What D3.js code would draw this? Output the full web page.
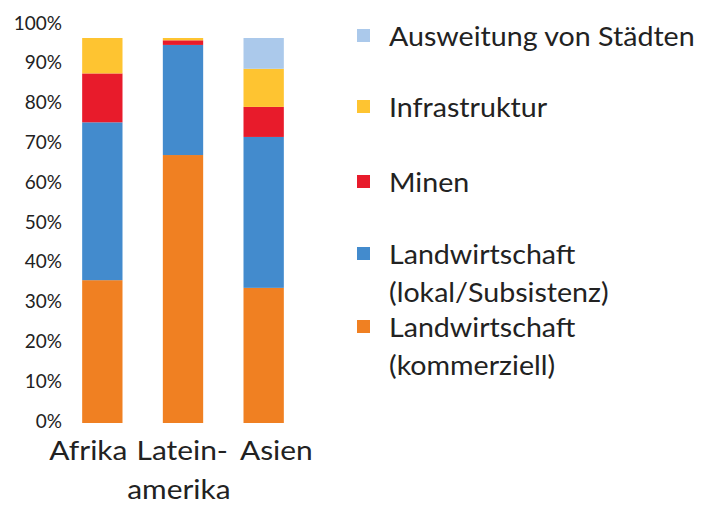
<!DOCTYPE html>
<html>
<head>
<meta charset="utf-8">
<script src="https://cdn.jsdelivr.net/npm/d3@7"></script>
<style>
  html, body { margin: 0; padding: 0; background: #fff; }
  svg { display: block; font-family: Lato, "Open Sans", sans-serif; }
</style>
</head>
<body>
<div id="chart"></div>
<script>
/* Regions on the x axis */
const regions = ["Afrika", "Latein-amerika", "Asien"];

/* Series, bottom to top in the stack (shares in %) */
const seriesKeys = ["kommerziell", "lokal", "minen", "infra", "staedte"];
const commercial = [37.1, 69.6, 35.1];
const subsistence = [41.0, 28.6, 39.2];
const mining = [12.7, 1.2, 7.8];
const infrastructure = [9.2, 0.6, 9.9];
const urban = [0, 0, 8.0];

/* Legend entries, top to bottom */
const legendKeys = ["staedte", "infra", "minen", "lokal", "kommerziell"];
const legendLabels = [
  ["Ausweitung von Städten"],
  ["Infrastruktur"],
  ["Minen"],
  ["Landwirtschaft", "(lokal/Subsistenz)"],
  ["Landwirtschaft", "(kommerziell)"]
];

/* Axis tick labels */
const yTicks = [0, 10, 20, 30, 40, 50, 60, 70, 80, 90, 100];

const colors = {
  kommerziell: "#f08022",
  lokal: "#438bcd",
  minen: "#e81b2b",
  infra: "#fec431",
  staedte: "#abc9eb"
};

const width = 701, height = 507;

/* Build table for the stack */
const table = regions.map((r, i) => ({
  region: r,
  kommerziell: commercial[i],
  lokal: subsistence[i],
  minen: mining[i],
  infra: infrastructure[i],
  staedte: urban[i]
}));

const stacked = d3.stack().keys(seriesKeys)(table);

const svg = d3.select("#chart")
  .append("svg")
  .attr("width", width)
  .attr("height", height);

/* Scales */
const xScale = d3.scaleBand()
  .domain(regions)
  .range([62, 304])
  .paddingInner(0.5)
  .paddingOuter(0.25);

const yScale = d3.scaleLinear()
  .domain([0, 100])
  .range([423, 38]);

/* tick labels in the picture sit slightly higher than the bars */
const yLabelScale = d3.scaleLinear()
  .domain([0, 100])
  .range([421, 23]);

/* x labels are spread a bit wider than the bars */
const xLabelScale = d3.scalePoint()
  .domain(regions)
  .range([86, 274]);

/* Bars */
svg.append("g")
  .selectAll("g")
  .data(stacked)
  .join("g")
    .attr("fill", d => colors[d.key])
  .selectAll("rect")
  .data(d => d)
  .join("rect")
    .attr("x", d => xScale(d.data.region))
    .attr("y", d => yScale(d[1]))
    .attr("width", xScale.bandwidth())
    .attr("height", d => yScale(d[0]) - yScale(d[1]));

/* Y axis labels */
const yAxis = d3.axisLeft(yLabelScale)
  .tickValues(yTicks)
  .tickSize(0)
  .tickPadding(0)
  .tickFormat(d => d + "%");

svg.append("g")
  .attr("transform", "translate(62,0)")
  .call(yAxis)
  .call(g => g.select(".domain").remove())
  .selectAll("text")
    .attr("font-family", "Lato, 'Open Sans', sans-serif")
    .attr("font-size", "19px")
    .attr("fill", "#222");

/* X axis labels (Latein-amerika broken into two lines), text is a bit wide in the original */
const xLabels = svg.append("g")
  .selectAll("text")
  .data(regions)
  .join("text")
    .attr("transform", d => `translate(${xLabelScale(d)},460) scale(1.15,1)`)
    .attr("text-anchor", "middle")
    .attr("font-size", "26px")
    .attr("fill", "#222");

xLabels.selectAll("tspan")
  .data(d => d.includes("-") ? [d.split("-")[0] + "-", d.split("-")[1]] : [d])
  .join("tspan")
    .attr("x", (d, i) => i === 0 ? 2 : -1)
    .attr("dy", (d, i) => i === 0 ? 0 : 39)
    .text(d => d);

/* Legend */
const legendTop = [29, 100, 175, 247, 320];

const legend = svg.append("g")
  .selectAll("g")
  .data(legendKeys)
  .join("g")
    .attr("transform", (d, i) => `translate(357,${legendTop[i]})`);

legend.append("rect")
  .attr("width", 13)
  .attr("height", 13)
  .attr("fill", d => colors[d]);

legend.append("text")
  .attr("transform", "translate(32,17) scale(1.1,1)")
  .attr("font-size", "26px")
  .attr("fill", "#222")
  .selectAll("tspan")
  .data((d, i) => legendLabels[i])
  .join("tspan")
    .attr("x", 0)
    .attr("dy", (d, i) => i === 0 ? 0 : 38)
    .text(d => d);
</script>
</body>
</html>
